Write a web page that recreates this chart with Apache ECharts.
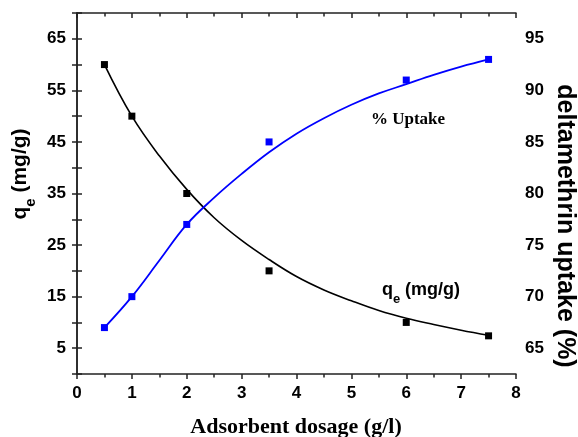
<!DOCTYPE html>
<html><head><meta charset="utf-8">
<script src="https://cdn.jsdelivr.net/npm/echarts@6/dist/echarts.min.js"></script>
<style>html,body{margin:0;padding:0;background:#fff}#c{width:578px;height:437px}</style>
</head><body><div id="c"></div>
<script>
// Measured points
const dosage = [0.5, 1, 2, 3.5, 6, 7.5];
const qeValues = [60, 50, 35, 20, 10, 7.4];
const uptakeValues = [67, 70, 77, 85, 91, 93];
// Fitted curves
const fitX = [0.5, 1, 1.5, 2, 2.5, 3, 3.5, 4, 4.5, 5, 5.5, 6, 6.5, 7, 7.5];
const qeFit = [60, 50, 42.3, 35.8, 30.3, 25.9, 22.2, 18.9, 16.3, 14.2, 12.3, 10.8, 9.6, 8.5, 7.5];
const uptakeFit = [67, 70, 73.5, 77, 79.6, 81.9, 84.0, 85.8, 87.3, 88.6, 89.7, 90.6, 91.5, 92.3, 93.0];
// Tick labels
const xTickLabels = [0, 1, 2, 3, 4, 5, 6, 7, 8];
const leftTickLabels = [5, 15, 25, 35, 45, 55, 65];
const rightTickLabels = [65, 70, 75, 80, 85, 90, 95];

const SANS = "'Liberation Sans', Arial, sans-serif";
const AX = '#222';
const zip = (xs, ys) => xs.map((x, i) => [x, ys[i]]);

const labelStyle = {color: '#000', fontFamily: SANS, fontWeight: 'bold', fontSize: 17};

const chart = echarts.init(document.getElementById('c'));
chart.setOption({
  animation: false,
  backgroundColor: '#fff',
  grid: {left: 77, right: 62, top: 13, bottom: 63, containLabel: false},
  xAxis: [{
    type: 'value', min: 0, max: 8, interval: 1, position: 'bottom',
    axisLine: {lineStyle: {color: AX, width: 1.5}},
    axisTick: {show: true, inside: false, length: 5, lineStyle: {color: AX, width: 1.5}},
    minorTick: {show: true, splitNumber: 2, length: 3.5, lineStyle: {color: AX, width: 1.5}},
    axisLabel: Object.assign({margin: 11, formatter: v => xTickLabels.includes(v) ? String(v) : ''}, labelStyle),
    splitLine: {show: false}
  }, {
    type: 'value', min: 0, max: 8, interval: 1, position: 'top',
    axisLine: {lineStyle: {color: AX, width: 1.5}},
    axisTick: {show: true, inside: true, length: 5, lineStyle: {color: AX, width: 1.5}},
    minorTick: {show: true, splitNumber: 2, length: 3.5, lineStyle: {color: AX, width: 1.5}},
    axisLabel: {show: false},
    splitLine: {show: false}
  }],
  yAxis: [{
    type: 'value', min: 0, max: 70, interval: 5, position: 'left',
    axisLine: {show: true, lineStyle: {color: AX, width: 1.5}},
    axisTick: {show: true, inside: false, length: 5, lineStyle: {color: AX, width: 1.5}},
    axisLabel: Object.assign({margin: 11, formatter: v => leftTickLabels.includes(v) ? String(v) : ''}, labelStyle),
    splitLine: {show: false}
  }, {
    type: 'value', min: 62.5, max: 97.5, interval: 2.5, position: 'right',
    axisLine: {show: true, lineStyle: {color: AX, width: 1.5}},
    axisTick: {show: true, inside: false, length: 5, lineStyle: {color: AX, width: 1.5}},
    axisLabel: Object.assign({margin: 9, formatter: v => rightTickLabels.includes(v) ? String(v) : ''}, labelStyle),
    splitLine: {show: false}
  }],
  series: [{
    type: 'line', xAxisIndex: 0, yAxisIndex: 0, data: zip(fitX, qeFit),
    smooth: 0.4, showSymbol: false, symbol: 'none', silent: true,
    lineStyle: {color: '#000', width: 1.6}, z: 2
  }, {
    type: 'line', xAxisIndex: 0, yAxisIndex: 1, data: zip(fitX, uptakeFit),
    smooth: 0.4, showSymbol: false, symbol: 'none', silent: true,
    lineStyle: {color: '#0000ff', width: 1.8}, z: 2
  }, {
    type: 'scatter', xAxisIndex: 0, yAxisIndex: 0, data: zip(dosage, qeValues),
    symbol: 'rect', symbolSize: 7, itemStyle: {color: '#000', opacity: 1}, z: 3
  }, {
    type: 'scatter', xAxisIndex: 0, yAxisIndex: 1, data: zip(dosage, uptakeValues),
    symbol: 'rect', symbolSize: 7, itemStyle: {color: '#0000ff', opacity: 1}, z: 3
  }],
  graphic: [{
    type: 'text', x: 22, y: 174, rotation: Math.PI / 2,
    style: {
      text: '{a|q}{s|e}{a| (mg/g)}', align: 'center', verticalAlign: 'middle',
      textAlign: 'center', textVerticalAlign: 'middle', fill: '#000',
      rich: {
        a: {fontSize: 21, fontWeight: 'bold', fontFamily: SANS, lineHeight: 24, verticalAlign: 'top', color: '#000'},
        s: {fontSize: 15, fontWeight: 'bold', fontFamily: SANS, lineHeight: 15, padding: [13, 0, 0, 0], verticalAlign: 'top', color: '#000'}
      }
    }
  }, {
    type: 'text', x: 565, y: 226, rotation: -Math.PI / 2,
    style: {
      text: 'deltamethrin uptake (%)', align: 'center', verticalAlign: 'middle',
      textAlign: 'center', textVerticalAlign: 'middle', fill: '#000',
      font: "bold 25px 'Liberation Sans', Arial, sans-serif"
    }
  }, {
    type: 'text', x: 296, y: 427,
    style: {
      text: 'Adsorbent dosage (g/l)', align: 'center', verticalAlign: 'middle',
      textAlign: 'center', textVerticalAlign: 'middle', fill: '#000',
      font: "bold 22px 'Liberation Serif', 'Times New Roman', serif"
    }
  }, {
    type: 'text', x: 408, y: 120,
    style: {
      text: '% Uptake', align: 'center', verticalAlign: 'middle',
      textAlign: 'center', textVerticalAlign: 'middle', fill: '#000',
      font: "bold 17px 'Liberation Serif', 'Times New Roman', serif"
    }
  }, {
    type: 'text', x: 421, y: 292,
    style: {
      text: '{a|q}{s|e}{a| (mg/g)}', align: 'center', verticalAlign: 'middle',
      textAlign: 'center', textVerticalAlign: 'middle', fill: '#000',
      rich: {
        a: {fontSize: 18, fontWeight: 'bold', fontFamily: SANS, lineHeight: 22, verticalAlign: 'top', color: '#000'},
        s: {fontSize: 13, fontWeight: 'bold', fontFamily: SANS, lineHeight: 13, padding: [12, 0, 0, 0], verticalAlign: 'top', color: '#000'}
      }
    }
  }]
});
</script>
</body></html>
